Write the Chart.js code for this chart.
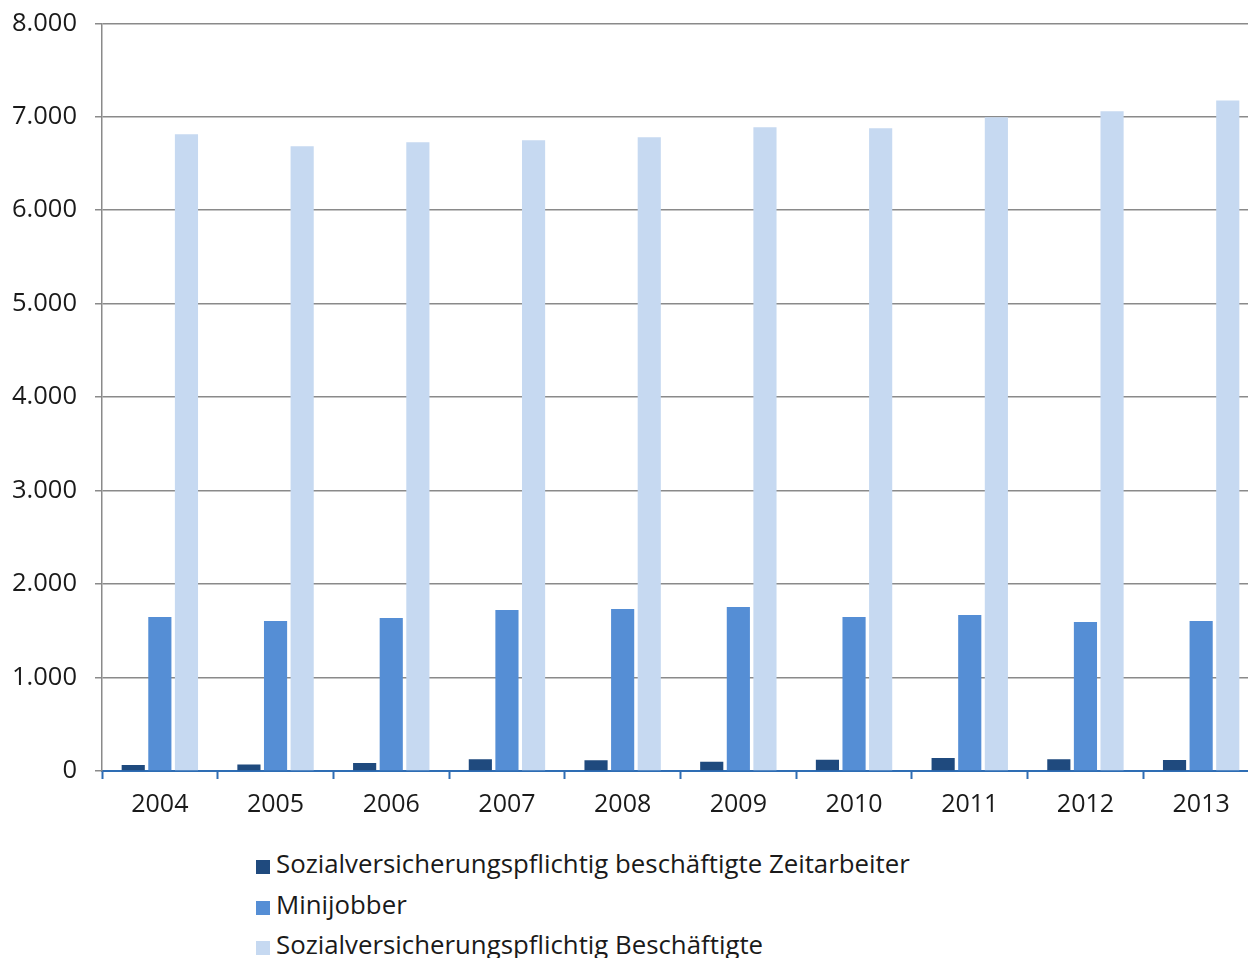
<!DOCTYPE html>
<html lang="de">
<head>
<meta charset="utf-8">
<script src="https://cdn.jsdelivr.net/npm/chart.js@4/dist/chart.umd.min.js"></script>
<style>
  html, body { margin: 0; padding: 0; background: #fff; overflow: hidden; width: 1248px; height: 958px; }
  #wrap { position: absolute; left: 0; top: -10px; width: 1259px; height: 840px; }
  #legend { position: absolute; left: 256px; top: 843px; font-family: "Open Sans", sans-serif; font-size: 25.8px; color: #1a1a1a; }
  #legend div { height: 40.5px; line-height: 40px; white-space: nowrap; }
  #legend span.box { display: inline-block; width: 14px; height: 14px; margin-right: 6px; vertical-align: -1px; }
</style>
</head>
<body>
<div id="wrap"><canvas id="chart"></canvas></div>
<div id="legend"></div>
<script>
// Jahre
const years = ['2004', '2005', '2006', '2007', '2008', '2009', '2010', '2011', '2012', '2013'];

// Werte (in Tausend)
const zeitarbeiter = [65, 70, 85, 125, 115, 100, 120, 140, 125, 118];
const minijobber = [1647, 1604, 1636, 1722, 1733, 1754, 1647, 1668, 1594, 1604];
const beschaeftigte = [6813, 6684, 6727, 6749, 6781, 6888, 6877, 6995, 7059, 7173];

const seriesNames = [
    'Sozialversicherungspflichtig beschäftigte Zeitarbeiter',
    'Minijobber',
    'Sozialversicherungspflichtig Beschäftigte'
];
const seriesColors = ['#1f4a7e', '#558ed5', '#c6d9f1'];

const yTicks = [0, 1000, 2000, 3000, 4000, 5000, 6000, 7000, 8000];

function fmt(v) {
    return v.toLocaleString('de-DE');
}

const ctx = document.getElementById('chart').getContext('2d');
const chart = new Chart(ctx, {
    type: 'bar',
    data: {
        labels: years,
        datasets: [zeitarbeiter, minijobber, beschaeftigte].map((d, i) => ({
            label: seriesNames[i],
            data: d,
            backgroundColor: seriesColors[i],
            categoryPercentage: 0.69,
            barPercentage: 0.87
        }))
    },
    options: {
        responsive: true,
        maintainAspectRatio: false,
        animation: false,
        layout: { padding: { top: 8, right: 0, left: 0, bottom: 0 } },
        plugins: {
            legend: { display: false },
            tooltip: { enabled: false }
        },
        scales: {
            x: {
                grid: {
                    offset: true,
                    drawOnChartArea: false,
                    drawTicks: true,
                    tickLength: 8,
                    tickColor: '#2e6db4',
                    tickWidth: 2
                },
                border: { color: '#2e6db4', width: 2 },
                ticks: {
                    color: '#1a1a1a',
                    padding: 11,
                    font: { family: 'Open Sans', size: 25 }
                },
                afterFit: (s) => { s.height = 59; }
            },
            y: {
                min: 0,
                max: 8000,
                afterBuildTicks: (s) => { s.ticks = yTicks.map(v => ({ value: v })); },
                grid: {
                    color: '#8a8a8a',
                    lineWidth: 1.5,
                    tickLength: 7,
                    tickColor: '#8a8a8a'
                },
                border: { color: '#8a8a8a', width: 1.5 },
                ticks: {
                    color: '#1a1a1a',
                    padding: 18,
                    font: { family: 'Open Sans', size: 25.5 },
                    callback: (v) => fmt(v)
                },
                afterFit: (s) => { s.width = 102; }
            }
        }
    }
});

// Legende als HTML, untereinander
const legend = document.getElementById('legend');
chart.data.datasets.forEach((ds) => {
    const row = document.createElement('div');
    const box = document.createElement('span');
    box.className = 'box';
    box.style.background = ds.backgroundColor;
    row.appendChild(box);
    row.appendChild(document.createTextNode(ds.label));
    legend.appendChild(row);
});
</script>
</body>
</html>
